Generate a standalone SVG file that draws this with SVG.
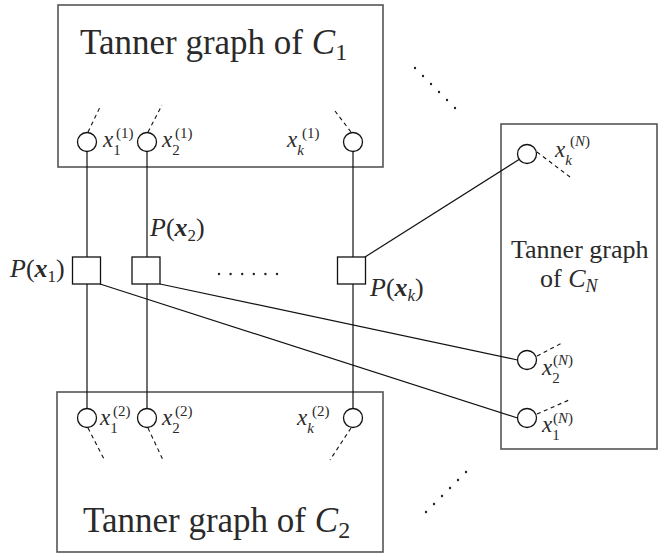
<svg xmlns="http://www.w3.org/2000/svg" width="658" height="554" viewBox="0 0 658 554" style="font-family:Liberation Serif, serif">
<rect width="658" height="554" fill="#fff"/>
<g id="box-c1">
<rect x="58" y="5" width="325" height="162" fill="#fff" stroke="#555" stroke-width="1.6"/>
<text x="80" y="54" font-size="35" fill="#2a2a2a" style="font-family:Liberation Serif, serif">Tanner graph of <tspan font-style="italic">C</tspan><tspan font-size="24" dy="6">1</tspan></text>
</g>

<g id="box-c2">
<rect x="57" y="392" width="326" height="160" fill="#fff" stroke="#555" stroke-width="1.6"/>
<text x="83" y="532" font-size="35" fill="#2a2a2a" style="font-family:Liberation Serif, serif">Tanner graph of <tspan font-style="italic">C</tspan><tspan font-size="24" dy="6">2</tspan></text>
</g>

<g id="box-cN">
<rect x="501" y="124" width="156" height="325" fill="#fff" stroke="#555" stroke-width="1.6"/>
<text x="511" y="258" font-size="26" fill="#2a2a2a" style="font-family:Liberation Serif, serif">Tanner graph</text>
<text x="540" y="287" font-size="26" fill="#2a2a2a" style="font-family:Liberation Serif, serif">of <tspan font-style="italic">C</tspan><tspan font-size="18" dy="5" font-style="italic">N</tspan></text>
</g>

<g id="connectors" fill="none" stroke="#111" stroke-width="1.2">
<line x1="87" y1="151.5" x2="87" y2="408.5"/>
<line x1="147" y1="151.5" x2="147" y2="408.5"/>
<line x1="353" y1="151.5" x2="353" y2="408.5"/>
<line x1="100" y1="284" x2="517.5" y2="418"/>
<line x1="160" y1="284" x2="517.5" y2="360"/>
<line x1="365" y1="257" x2="519" y2="159.5"/>
<g stroke-width="1.1" stroke-dasharray="4 3.5">
<line x1="88" y1="132" x2="101" y2="105"/>
<line x1="148" y1="132" x2="162" y2="105"/>
<line x1="351" y1="132" x2="335" y2="111"/>
<line x1="88" y1="428" x2="105" y2="461"/>
<line x1="148" y1="428" x2="163" y2="460"/>
<line x1="351" y1="428" x2="330" y2="460"/>
<line x1="537" y1="152" x2="570" y2="177"/>
<line x1="537" y1="356" x2="562" y2="343"/>
<line x1="537" y1="414" x2="569" y2="400"/>
</g>
</g>

<g id="variables" fill="#fff" stroke="#111" stroke-width="1.3">
<g id="v-x1-1"><circle cx="87" cy="142" r="9.5"/>
<text x="103" y="147" font-size="23" font-style="italic" fill="#2a2a2a" stroke="none" style="font-family:Liberation Serif, serif">x<tspan font-size="15" font-style="normal" dy="8">1</tspan><tspan font-size="15" font-style="normal" x="116" y="138">(1)</tspan></text></g>
<g id="v-x2-1"><circle cx="147" cy="142" r="9.5"/>
<text x="162" y="147" font-size="23" font-style="italic" fill="#2a2a2a" stroke="none" style="font-family:Liberation Serif, serif">x<tspan font-size="15" font-style="normal" dy="8">2</tspan><tspan font-size="15" font-style="normal" x="175" y="138">(1)</tspan></text></g>
<g id="v-xk-1"><circle cx="353" cy="142" r="9.5"/>
<text x="287" y="147" font-size="23" font-style="italic" fill="#2a2a2a" stroke="none" style="font-family:Liberation Serif, serif">x<tspan font-size="15" dy="8">k</tspan><tspan font-size="15" font-style="normal" x="302" y="138">(1)</tspan></text></g>

<g id="v-x1-2"><circle cx="87" cy="418" r="9.5"/>
<text x="100" y="425" font-size="23" font-style="italic" fill="#2a2a2a" stroke="none" style="font-family:Liberation Serif, serif">x<tspan font-size="15" font-style="normal" dy="8">1</tspan><tspan font-size="15" font-style="normal" x="113" y="416">(2)</tspan></text></g>
<g id="v-x2-2"><circle cx="147" cy="418" r="9.5"/>
<text x="162" y="425" font-size="23" font-style="italic" fill="#2a2a2a" stroke="none" style="font-family:Liberation Serif, serif">x<tspan font-size="15" font-style="normal" dy="8">2</tspan><tspan font-size="15" font-style="normal" x="175" y="416">(2)</tspan></text></g>
<g id="v-xk-2"><circle cx="353" cy="418" r="9.5"/>
<text x="297" y="425" font-size="23" font-style="italic" fill="#2a2a2a" stroke="none" style="font-family:Liberation Serif, serif">x<tspan font-size="15" dy="8">k</tspan><tspan font-size="15" font-style="normal" x="312" y="416">(2)</tspan></text></g>

<g id="v-xk-N"><circle cx="527" cy="154" r="9.5"/>
<text x="555" y="157" font-size="23" font-style="italic" fill="#2a2a2a" stroke="none" style="font-family:Liberation Serif, serif">x<tspan font-size="15" dy="8">k</tspan><tspan font-size="15" font-style="normal" x="570" y="146">(<tspan font-style="italic">N</tspan>)</tspan></text></g>
<g id="v-x2-N"><circle cx="527" cy="360" r="9.5"/>
<text x="542" y="375" font-size="23" font-style="italic" fill="#2a2a2a" stroke="none" style="font-family:Liberation Serif, serif">x<tspan font-size="15" font-style="normal" dy="8">2</tspan><tspan font-size="15" font-style="normal" x="553" y="365">(<tspan font-style="italic">N</tspan>)</tspan></text></g>
<g id="v-x1-N"><circle cx="527" cy="418" r="9.5"/>
<text x="542" y="432" font-size="23" font-style="italic" fill="#2a2a2a" stroke="none" style="font-family:Liberation Serif, serif">x<tspan font-size="15" font-style="normal" dy="8">1</tspan><tspan font-size="15" font-style="normal" x="553" y="423">(<tspan font-style="italic">N</tspan>)</tspan></text></g>
</g>

<g id="factors" fill="#fff" stroke="#111" stroke-width="1.3">
<g id="f1"><rect x="72.5" y="257" width="28" height="27"/>
<text x="10" y="277" font-size="26" fill="#2a2a2a" stroke="none" style="font-family:Liberation Serif, serif"><tspan font-style="italic">P</tspan>(<tspan font-weight="bold" font-style="italic">x</tspan><tspan font-size="17" dy="5">1</tspan><tspan dy="-5">)</tspan></text></g>
<g id="f2"><rect x="132" y="257" width="28" height="27"/>
<text x="150" y="236" font-size="26" fill="#2a2a2a" stroke="none" style="font-family:Liberation Serif, serif"><tspan font-style="italic">P</tspan>(<tspan font-weight="bold" font-style="italic">x</tspan><tspan font-size="17" dy="5">2</tspan><tspan dy="-5">)</tspan></text></g>
<g id="fk"><rect x="337.5" y="257" width="28" height="27"/>
<text x="370" y="296" font-size="26" fill="#2a2a2a" stroke="none" style="font-family:Liberation Serif, serif"><tspan font-style="italic">P</tspan>(<tspan font-weight="bold" font-style="italic">x</tspan><tspan font-size="17" font-style="italic" dy="5">k</tspan><tspan dy="-5">)</tspan></text></g>
</g>

<g id="dots" fill="#222">
<circle cx="219" cy="274" r="1.2"/><circle cx="230.6" cy="274" r="1.2"/><circle cx="242.2" cy="274" r="1.2"/><circle cx="253.8" cy="274" r="1.2"/><circle cx="265.4" cy="274" r="1.2"/><circle cx="277" cy="274" r="1.2"/>
<circle cx="415" cy="68" r="1.2"/><circle cx="423" cy="76" r="1.2"/><circle cx="431" cy="84" r="1.2"/><circle cx="439" cy="92" r="1.2"/><circle cx="447" cy="100" r="1.2"/><circle cx="455" cy="108" r="1.2"/>
<circle cx="426" cy="512" r="1.2"/><circle cx="434" cy="504" r="1.2"/><circle cx="442" cy="496" r="1.2"/><circle cx="450" cy="488" r="1.2"/><circle cx="458" cy="480" r="1.2"/><circle cx="466" cy="472" r="1.2"/>
</g>
</svg>
